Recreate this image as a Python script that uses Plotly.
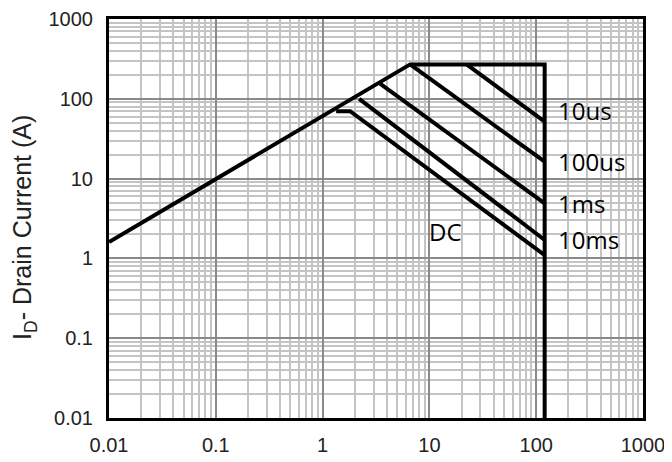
import numpy as np
import plotly.graph_objects as go

# Safe operating area curves (V_DS in V, I_D in A)
envelope_v = [0.01, 6.6, 120, 120]
envelope_i = [1.6, 270, 270, 0.01]

us10_v = [22.3, 120]
us10_i = [270, 51.6]

us100_v = [6.6, 120]
us100_i = [270, 16.3]

ms1_v = [3.45, 120]
ms1_i = [155, 4.9]

ms10_v = [2.2, 120]
ms10_i = [100, 1.7]

dc_v = [1.34, 1.81, 120]
dc_i = [70, 70, 1.1]

curve_labels = ["10us", "100us", "1ms", "10ms", "DC"]
label_v = [152, 152, 152, 152, 14.3]
label_i = [72, 16.3, 4.9, 1.75, 2.2]

tick_vals = [0.01, 0.1, 1, 10, 100, 1000]
tick_text = ["0.01", "0.1", "1", "10", "100", "1000"]

y_title = "I<sub>D</sub>- Drain Current (A)"

fig = go.Figure()
line_style = dict(color="black", width=4)
for xs, ys in [(envelope_v, envelope_i), (us10_v, us10_i), (us100_v, us100_i),
               (ms1_v, ms1_i), (ms10_v, ms10_i), (dc_v, dc_i)]:
    fig.add_trace(go.Scatter(x=xs, y=ys, mode="lines", line=line_style,
                             showlegend=False, hoverinfo="skip"))

for txt, xv, yv in zip(curve_labels, label_v, label_i):
    fig.add_annotation(x=np.log10(xv), y=np.log10(yv), text=txt, showarrow=False,
                       xref="x", yref="y",
                       xanchor="left" if txt != "DC" else "center", yanchor="middle",
                       font=dict(family="Open Sans", size=24, color="black"))

# y-axis title as a rotated annotation so its position can match
fig.add_annotation(x=-0.158, y=0.478, xref="paper", yref="paper", text=y_title,
                   textangle=-90, showarrow=False, xanchor="center", yanchor="middle",
                   font=dict(family="Liberation Sans", size=25, color="#222222"))

axis_common = dict(
    type="log", range=[-2, 3], automargin=False,
    tickmode="array", tickvals=tick_vals, ticktext=tick_text,
    showgrid=True, gridcolor="#8a8a8a", gridwidth=2,
    minor=dict(dtick="D1", showgrid=True, gridcolor="#c4c4c4", gridwidth=2, ticks=""),
    showline=True, linecolor="black", linewidth=3, mirror=True,
    ticks="", zeroline=False,
    tickfont=dict(family="Liberation Sans", size=20, color="#222222"),
)

fig.update_xaxes(**axis_common, ticklabelstandoff=7)
fig.update_yaxes(**axis_common, ticklabelstandoff=9)

# the page body adds an 8px margin, so the figure is sized to fit the window
fig.update_layout(
    width=664, height=454,
    margin=dict(l=101, r=29, t=11, b=44),
    paper_bgcolor="white", plot_bgcolor="white",
    showlegend=False,
)

fig.write_html("out.html")
